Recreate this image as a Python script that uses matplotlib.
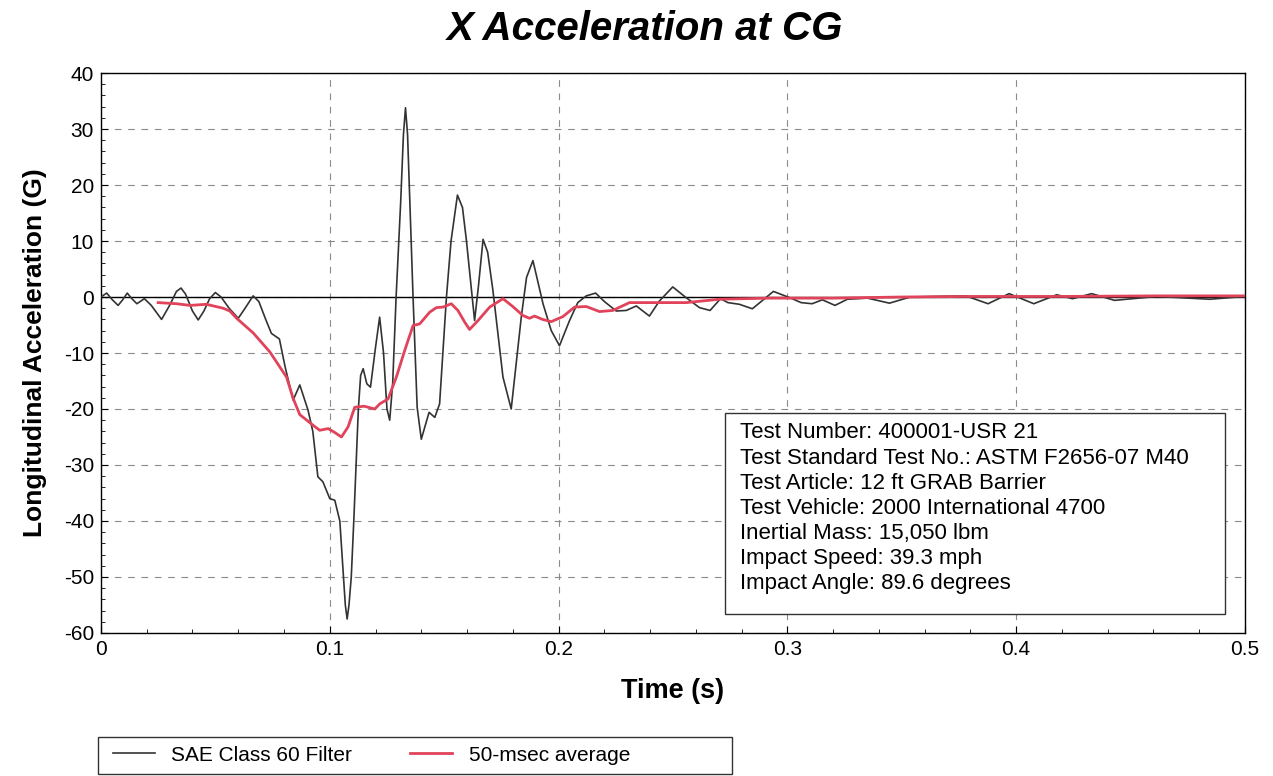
import matplotlib
matplotlib.use("Agg")
import matplotlib.pyplot as plt
from matplotlib.patches import Rectangle

plt.rcParams['font.family'] = ['Liberation Sans', 'DejaVu Sans']
plt.rcParams['axes.unicode_minus'] = False

# SAE Class 60 filtered trace (time s, accel G)
t_sae = [0.000, 0.0025, 0.005, 0.0075, 0.0095, 0.0115, 0.0135, 0.0157, 0.019, 0.022,
         0.0265, 0.030, 0.033, 0.035, 0.037, 0.040, 0.0425, 0.045, 0.0475, 0.050,
         0.0525, 0.056, 0.060, 0.063, 0.0665, 0.069, 0.072, 0.0745, 0.078, 0.0805,
         0.084, 0.0869, 0.0905, 0.0926, 0.0948, 0.097, 0.100, 0.1022, 0.1044, 0.1060,
         0.1068, 0.1076, 0.1084, 0.1094, 0.1105, 0.1115, 0.1125, 0.1135, 0.1146, 0.1162,
         0.1178, 0.1200, 0.1218, 0.1235, 0.1250, 0.1262, 0.1275, 0.1290, 0.1310, 0.1322,
         0.1331, 0.1340, 0.1350, 0.1364, 0.1382, 0.1400, 0.1434, 0.1459, 0.1480, 0.1510,
         0.1530, 0.1558, 0.1580, 0.1597, 0.1633, 0.1650, 0.1670, 0.1690, 0.1713, 0.1757,
         0.1793, 0.1837, 0.1860, 0.1888, 0.1932, 0.1968, 0.2004, 0.2048, 0.2084, 0.2121,
         0.2162, 0.2200, 0.2252, 0.2296, 0.2340, 0.2397, 0.2441, 0.2499, 0.2557, 0.2616,
         0.2662, 0.2708, 0.2740, 0.2790, 0.2847, 0.2939, 0.3015, 0.3060, 0.3108, 0.3153,
         0.3208, 0.3262, 0.3350, 0.3446, 0.3537, 0.3650, 0.3780, 0.3877, 0.3969, 0.4077,
         0.4177, 0.4246, 0.4330, 0.4430, 0.4614, 0.4846, 0.5000]
g_sae = [0.0, 0.7, -0.5, -1.5, -0.5, 0.7, -0.3, -1.2, -0.3, -1.5,
         -4.0, -1.5, 1.0, 1.6, 0.5, -2.5, -4.1, -2.5, -0.3, 0.8,
         0.0, -2.0, -3.8, -2.0, 0.2, -0.8, -4.0, -6.5, -7.5, -12.5,
         -18.4, -15.7, -20.2, -24.0, -32.1, -33.0, -36.0, -36.3, -40.0, -50.0,
         -55.0, -57.5, -55.0, -50.0, -40.0, -30.0, -20.0, -14.0, -12.8, -15.5,
         -16.1, -9.0, -3.6, -10.0, -20.0, -22.0, -15.4, 0.0, 17.0, 29.0,
         33.8, 29.0, 17.0, 0.0, -19.7, -25.4, -20.6, -21.5, -19.1, 0.0,
         10.0, 18.2, 16.0, 10.2, -4.2, 2.0, 10.3, 8.0, 1.2, -14.3,
         -20.0, -3.6, 3.5, 6.5, -1.2, -6.0, -8.7, -4.2, -1.0, 0.2,
         0.7, -0.8, -2.5, -2.4, -1.6, -3.4, -0.7, 1.8, -0.1, -1.9,
         -2.4, -0.3, -1.0, -1.3, -2.1, 1.0, -0.2, -1.0, -1.2, -0.5,
         -1.5, -0.4, -0.2, -1.1, 0.0, 0.1, 0.2, -1.2, 0.6, -1.2,
         0.4, -0.3, 0.6, -0.6, 0.1, -0.4, 0.1]

# 50-msec moving average
t_avg = [0.025, 0.033, 0.039, 0.046, 0.0534, 0.0563, 0.0593, 0.0665, 0.0738, 0.0811,
         0.084, 0.0869, 0.0927, 0.0956, 0.0993, 0.1022, 0.1051, 0.108, 0.1109, 0.1150,
         0.1197, 0.1218, 0.1255, 0.1291, 0.1328, 0.1364, 0.1393, 0.1437, 0.1466, 0.1495,
         0.1531, 0.156, 0.159, 0.1611, 0.1648, 0.1699, 0.1757, 0.180, 0.1844, 0.1873,
         0.1895, 0.193, 0.1968, 0.2019, 0.207, 0.2121, 0.2179, 0.2237, 0.231, 0.2412,
         0.2558, 0.2703, 0.292, 0.32, 0.35, 0.38, 0.42, 0.46, 0.50]
g_avg = [-1.0, -1.2, -1.5, -1.3, -2.0, -2.5, -3.8, -6.4, -9.8, -14.3,
         -18.1, -21.0, -22.9, -23.8, -23.5, -24.2, -25.0, -23.2, -19.7, -19.5,
         -20.0, -19.1, -18.2, -14.3, -9.5, -5.1, -4.8, -2.7, -1.9, -1.8,
         -1.2, -2.4, -4.5, -5.8, -4.2, -1.8, -0.3, -1.7, -3.3, -3.8,
         -3.4, -4.0, -4.4, -3.5, -1.8, -1.7, -2.6, -2.4, -1.0, -1.0,
         -1.0, -0.4, -0.2, -0.2, 0.0, 0.1, 0.1, 0.2, 0.2]

info_lines = ["Test Number: 400001-USR 21",
              "Test Standard Test No.: ASTM F2656-07 M40",
              "Test Article: 12 ft GRAB Barrier",
              "Test Vehicle: 2000 International 4700",
              "Inertial Mass: 15,050 lbm",
              "Impact Speed: 39.3 mph",
              "Impact Angle: 89.6 degrees"]

fig = plt.figure(figsize=(12.73, 7.76), dpi=100)
ax = fig.add_axes([0.0793, 0.1843, 0.8987, 0.7216])

ax.plot(t_sae, g_sae, color='#333333', lw=1.2, label='SAE Class 60 Filter', zorder=3)
ax.plot(t_avg, g_avg, color='#e0435a', lw=2.0, label='50-msec average', zorder=4)
ax.axhline(0, color='black', lw=1.0, zorder=2)

ax.set_xlim(0, 0.5)
ax.set_ylim(-60, 40)
ax.set_xticks([0, 0.1, 0.2, 0.3, 0.4, 0.5])
ax.set_xticklabels(['0', '0.1', '0.2', '0.3', '0.4', '0.5'])
ax.set_yticks(range(-60, 41, 10))
ax.set_xticks([i * 0.02 for i in range(26)], minor=True)
ax.set_yticks(range(-60, 41, 2), minor=True)
ax.tick_params(which='both', direction='in', labelsize=15)
ax.tick_params(which='major', length=5, pad=5)
ax.tick_params(which='minor', length=3)
ax.grid(True, which='major', color='#8a8a8a', lw=0.8, ls=(0, (6, 6)))
for s in ax.spines.values():
    s.set_linewidth(1.0)

ax.set_xlabel('Time (s)', fontsize=19.5, fontweight='bold', labelpad=14)
ax.set_ylabel('Longitudinal Acceleration (G)', fontsize=19, fontweight='bold', labelpad=12)
fig.text(0.507, 0.962, 'X Acceleration at CG', ha='center', va='center',
         fontsize=29, fontweight='bold', fontstyle='italic')

# info box
ax.add_patch(Rectangle((0.2727, -56.6), 0.2186, 35.8, facecolor='white',
                       edgecolor='#333333', lw=1.0, zorder=5))
ax.text(0.2793, -22.4, "\n".join(info_lines), fontsize=16, va='top', ha='left',
        linespacing=1.26, zorder=6)

fig.legend(loc='center left', bbox_to_anchor=(0.074, 0.027), ncol=2, frameon=False,
           fontsize=15, handlelength=2.0, columnspacing=2.8)
fig.patches.append(Rectangle((0.077, 0.003), 0.498, 0.047, transform=fig.transFigure,
                             fill=False, edgecolor='#333333', lw=1.0))

fig.savefig('out.png', dpi=100)
